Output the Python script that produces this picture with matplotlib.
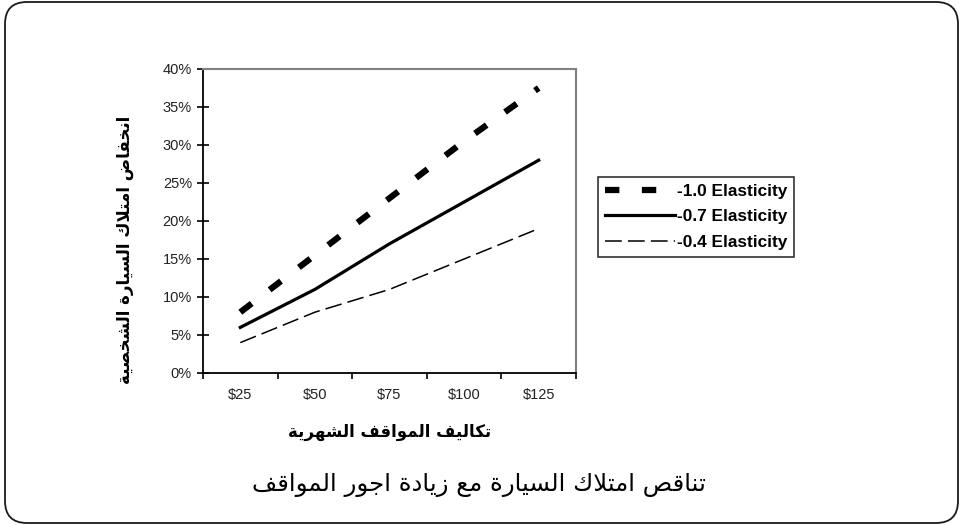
import numpy as np
import matplotlib
matplotlib.use("Agg")
import matplotlib.pyplot as plt
from matplotlib.patches import FancyBboxPatch
from matplotlib.transforms import IdentityTransform

# data
fees = ["$25", "$50", "$75", "$100", "$125"]
elast_10 = [8, 15.5, 23, 30.5, 37.5]
elast_07 = [6, 11, 17, 22.5, 28]
elast_04 = [4, 8, 11, 15, 19]
series_labels = ["-1.0 Elasticity", "-0.7 Elasticity", "-0.4 Elasticity"]
y_ticks = [0, 5, 10, 15, 20, 25, 30, 35, 40]

title_txt = "تناقص امتلاك السيارة مع زيادة اجور المواقف"
xlabel_txt = "تكاليف المواقف الشهرية"
ylabel_txt = "انخفاض امتلاك السيارة الشخصية"

# arabic presentation forms: isolated, final, initial, medial
FORMS = {
    "ا": ("\uFE8D", "\uFE8E", None, None),
    "ة": ("\uFE93", "\uFE94", None, None),
    "ت": ("\uFE95", "\uFE96", "\uFE97", "\uFE98"),
    "ج": ("\uFE9D", "\uFE9E", "\uFE9F", "\uFEA0"),
    "خ": ("\uFEA5", "\uFEA6", "\uFEA7", "\uFEA8"),
    "د": ("\uFEA9", "\uFEAA", None, None),
    "ر": ("\uFEAD", "\uFEAE", None, None),
    "ز": ("\uFEAF", "\uFEB0", None, None),
    "س": ("\uFEB1", "\uFEB2", "\uFEB3", "\uFEB4"),
    "ش": ("\uFEB5", "\uFEB6", "\uFEB7", "\uFEB8"),
    "ص": ("\uFEB9", "\uFEBA", "\uFEBB", "\uFEBC"),
    "ض": ("\uFEBD", "\uFEBE", "\uFEBF", "\uFEC0"),
    "ع": ("\uFEC9", "\uFECA", "\uFECB", "\uFECC"),
    "ف": ("\uFED1", "\uFED2", "\uFED3", "\uFED4"),
    "ق": ("\uFED5", "\uFED6", "\uFED7", "\uFED8"),
    "ك": ("\uFED9", "\uFEDA", "\uFEDB", "\uFEDC"),
    "ل": ("\uFEDD", "\uFEDE", "\uFEDF", "\uFEE0"),
    "م": ("\uFEE1", "\uFEE2", "\uFEE3", "\uFEE4"),
    "ن": ("\uFEE5", "\uFEE6", "\uFEE7", "\uFEE8"),
    "ه": ("\uFEE9", "\uFEEA", "\uFEEB", "\uFEEC"),
    "و": ("\uFEED", "\uFEEE", None, None),
    "ي": ("\uFEF1", "\uFEF2", "\uFEF3", "\uFEF4"),
}


def shape(text):
    # join letters and flip to visual order (matplotlib does no shaping)
    out = []
    n = len(text)
    i = 0
    while i < n:
        ch = text[i]
        if ch not in FORMS:
            out.append(ch)
            i += 1
            continue
        prev = i > 0 and text[i - 1] in FORMS and FORMS[text[i - 1]][2] is not None
        if ch == "ل" and i + 1 < n and text[i + 1] == "ا":
            out.append("\uFEFC" if prev else "\uFEFB")
            i += 2
            continue
        iso, fin, ini, med = FORMS[ch]
        nxt = ini is not None and i + 1 < n and text[i + 1] in FORMS
        if prev and nxt:
            out.append(med)
        elif prev:
            out.append(fin)
        elif nxt:
            out.append(ini)
        else:
            out.append(iso)
        i += 1
    return "".join(out)[::-1]


plt.rcParams["font.family"] = ["Liberation Sans", "DejaVu Sans"]

W, H = 960, 525
fig = plt.figure(figsize=(W / 100, H / 100), dpi=100)

# rounded frame round the whole picture
frame = FancyBboxPatch((5, 2), 953, 521, boxstyle="round,pad=0,rounding_size=22",
                       transform=IdentityTransform(), fill=False, ec="#1a1a1a", lw=1.3)
fig.patches.append(frame)

ax = fig.add_axes([203 / W, 1 - 373 / H, (576 - 203) / W, (373 - 69) / H])
x = np.arange(len(fees))

l1, = ax.plot(x, elast_10, color="black", lw=4.5, dashes=(2.3, 3.6), solid_capstyle="butt")
l2, = ax.plot(x, elast_07, color="black", lw=2.3)
l3, = ax.plot(x, elast_04, color="black", lw=1.1, dashes=(11, 4))

ax.set_xlim(-0.5, 4.5)
ax.set_ylim(0, 40)
ax.set_xticks(np.arange(-0.5, 5, 1))
ax.set_xticklabels([])
ax.set_xticks(x, minor=True)
ax.set_xticklabels(fees, minor=True)
ax.tick_params(axis="x", which="major", direction="out", length=4, width=1.2)
ax.tick_params(axis="x", which="minor", length=0, pad=11, labelsize=10.5, labelcolor="#222222")
ax.set_yticks(y_ticks)
ax.set_yticklabels([f"{v}%" for v in y_ticks])
ax.tick_params(axis="y", direction="inout", length=8, width=1.2, pad=4,
               labelsize=10.5, labelcolor="#222222")

for s in ["left", "bottom"]:
    ax.spines[s].set_color("black")
    ax.spines[s].set_linewidth(1.3)
for s in ["top", "right"]:
    ax.spines[s].set_color("#808080")
    ax.spines[s].set_linewidth(1.5)

leg = fig.legend([l1, l2, l3], series_labels, loc="upper left",
                 bbox_to_anchor=(598 / W, 1 - 177 / H), frameon=True, fancybox=False,
                 edgecolor="black", handlelength=4.1, handletextpad=0.12,
                 labelspacing=0.62, borderpad=0.38, borderaxespad=0,
                 prop={"family": "Liberation Sans", "weight": "bold", "size": 12.4})
leg.get_frame().set_linewidth(1.2)

fig.text(390 / W, 1 - 432 / H, shape(xlabel_txt), ha="center", va="center",
         fontsize=12, fontweight="bold", family=["DejaVu Sans"])
fig.text(125 / W, 1 - 250 / H, shape(ylabel_txt), ha="center", va="center",
         rotation=90, fontsize=12, fontweight="bold", family=["DejaVu Sans"])
fig.text(479 / W, 1 - 485 / H, shape(title_txt), ha="center", va="center",
         fontsize=17.6, family=["DejaVu Sans"])

fig.savefig("out.png", dpi=100, facecolor="white")
